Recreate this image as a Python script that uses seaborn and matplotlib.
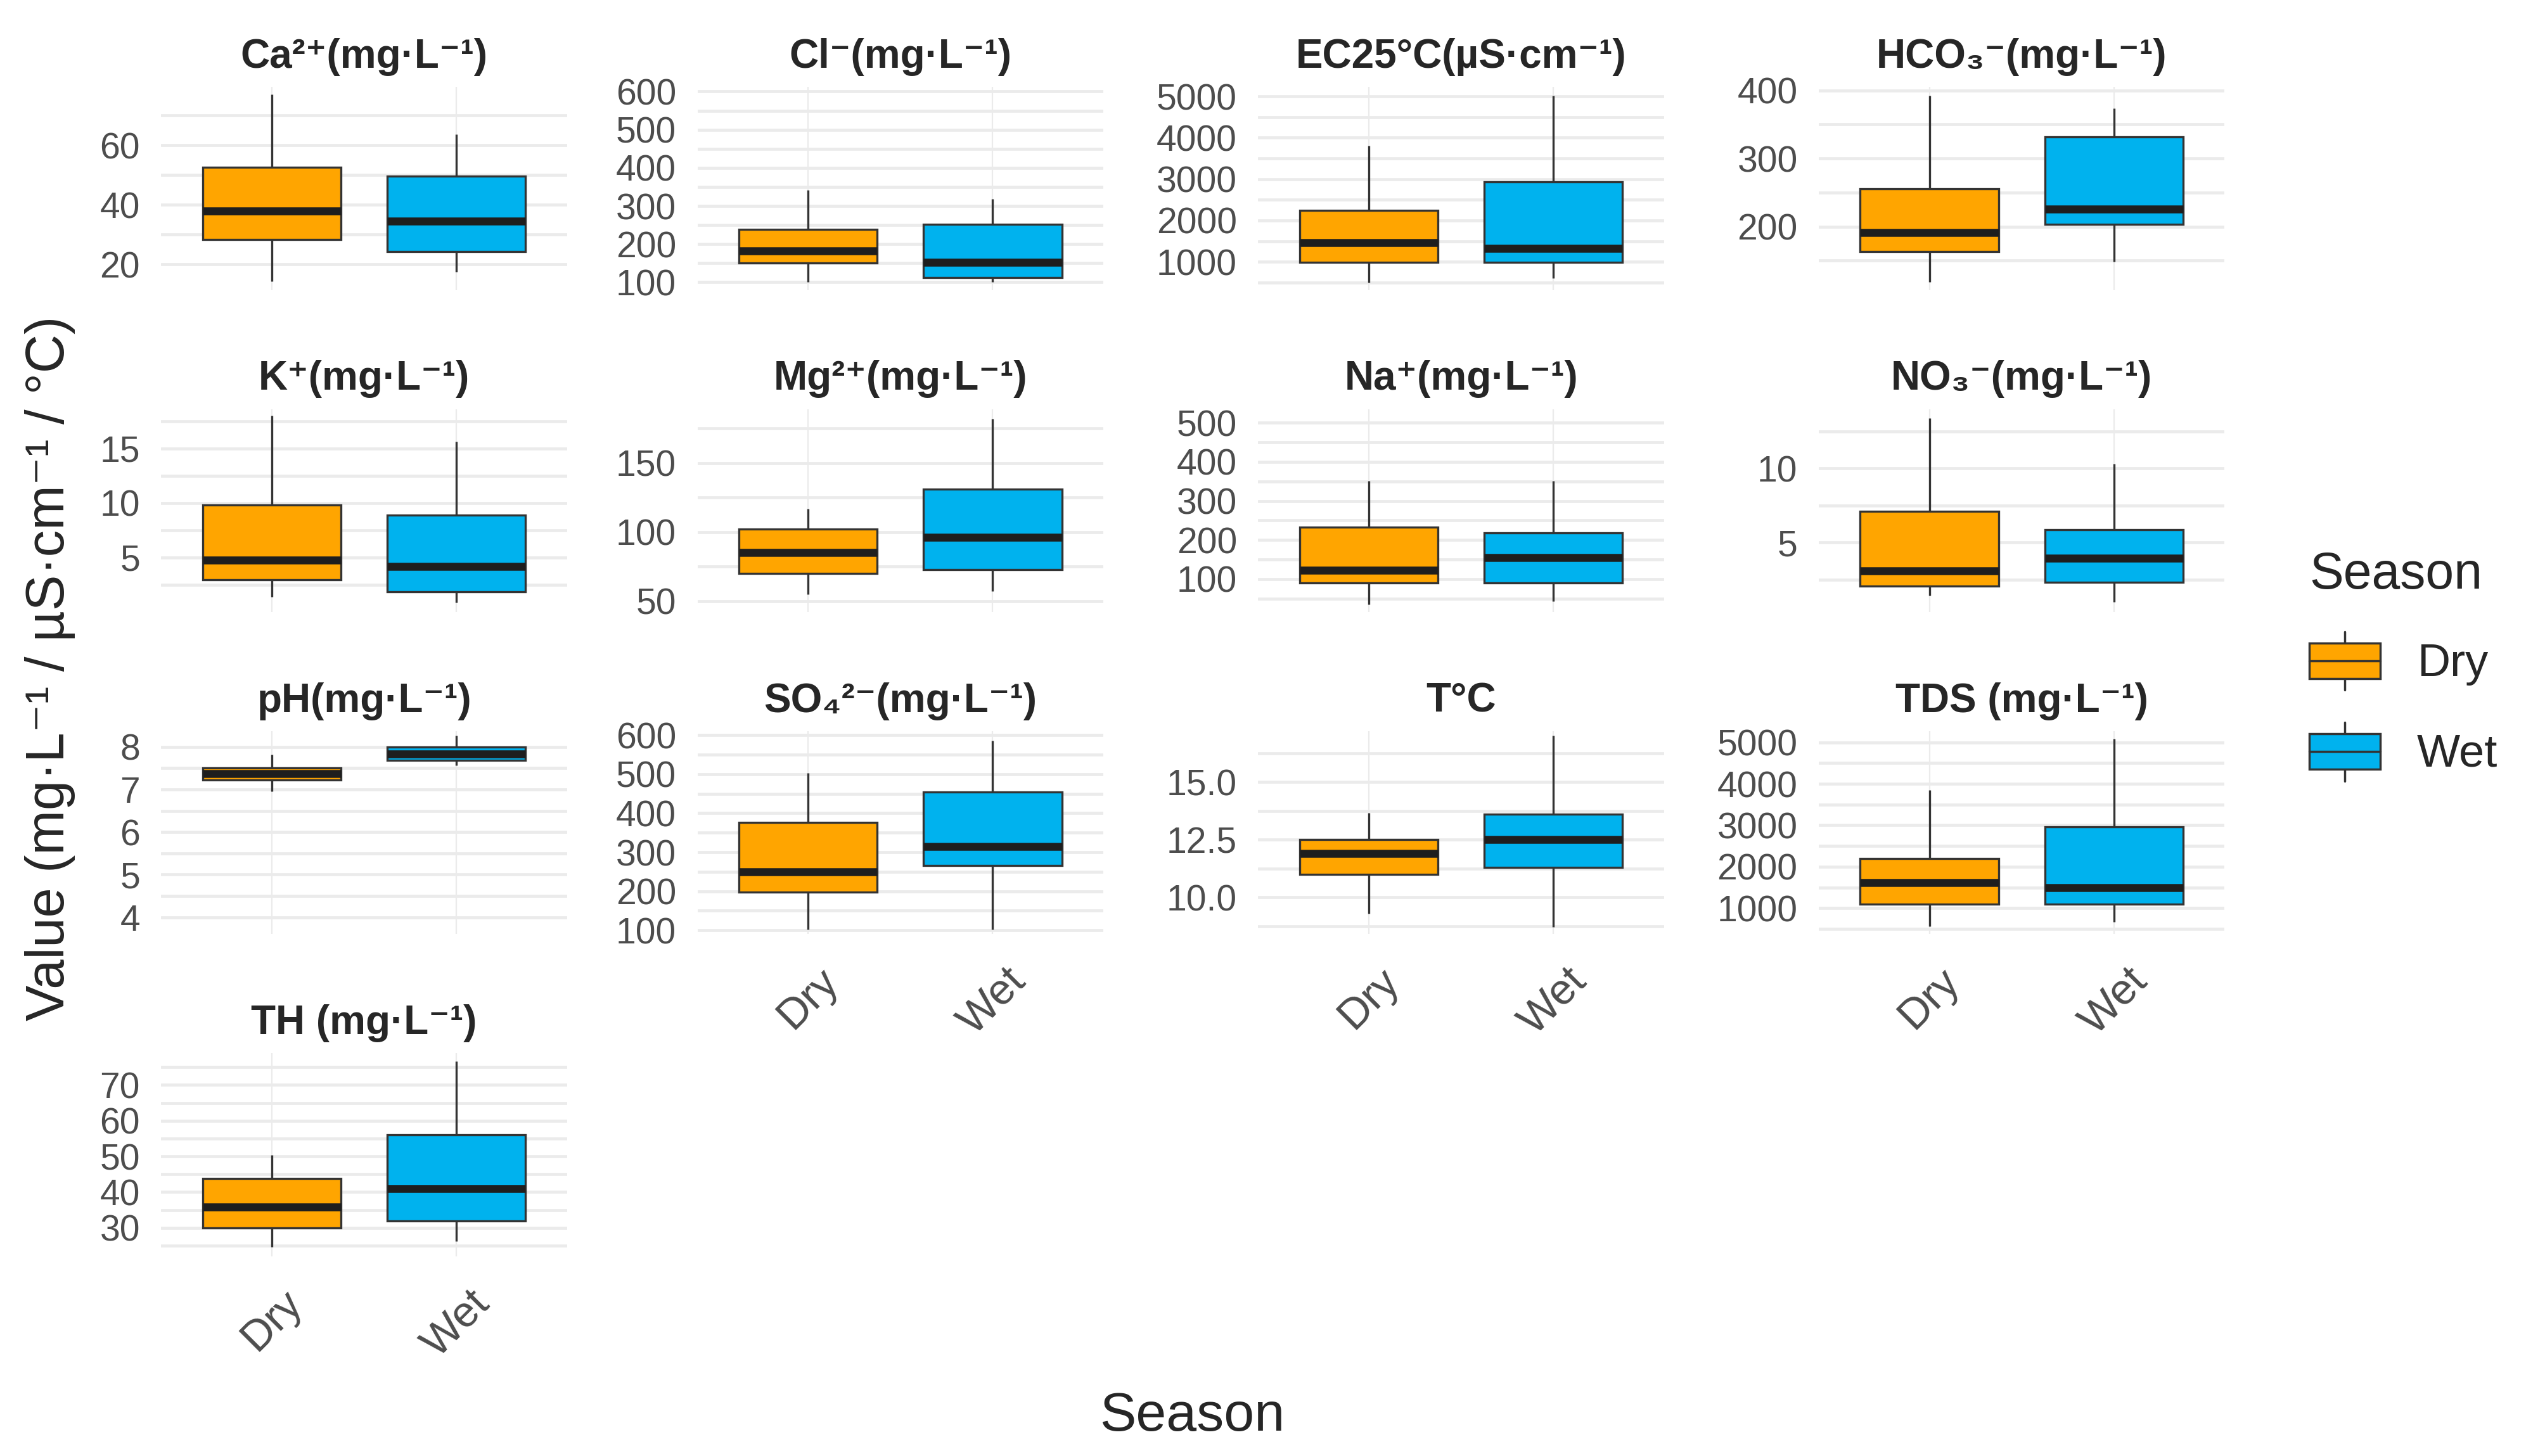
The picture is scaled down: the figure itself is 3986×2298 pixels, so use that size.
#%%
import numpy as np                                   # numeric helpers.
import pandas as pd                                  # long-form table for seaborn.
import seaborn as sns                                # plotting.
import matplotlib.pyplot as plt                      # figure handling.
from matplotlib.legend_handler import HandlerBase    # custom legend key.
from matplotlib.patches import Patch, Rectangle
from matplotlib.lines import Line2D

sns.set_theme(style="white")
plt.rcParams['font.family'] = ['Liberation Sans', 'DejaVu Sans']

#%%
# Seasons and colours of the fill.
seasons = ["Dry", "Wet"]
season_colors = ["#FFA500", "#00B2EE"]

# One panel per parameter, in facet order.
parameters = ["Ca", "Cl", "EC25", "HCO3", "K", "Mg", "Na", "NO3",
              "pH", "SO4", "T", "TDS", "TH"]
panel_titles = [
    "Ca²⁺(mg·L⁻¹)", "Cl⁻(mg·L⁻¹)", "EC25°C(µS·cm⁻¹)", "HCO₃⁻(mg·L⁻¹)",
    "K⁺(mg·L⁻¹)", "Mg²⁺(mg·L⁻¹)", "Na⁺(mg·L⁻¹)", "NO₃⁻(mg·L⁻¹)",
    "pH(mg·L⁻¹)", "SO₄²⁻(mg·L⁻¹)", "T°C", "TDS (mg·L⁻¹)", "TH (mg·L⁻¹)",
]

# Five-number summaries: min, Q1, median, Q3, max.
dry_values = [
    [14.3, 28.4, 38.0, 52.6, 77.0],
    [100, 150, 183, 238, 342],
    [500, 985, 1470, 2240, 3800],
    [119, 163, 191, 255, 392],
    [1.4, 2.95, 4.75, 9.8, 18.0],
    [55, 70, 85, 102, 117],
    [35, 90, 123, 233, 351],
    [1.4, 2.05, 3.1, 7.1, 13.4],
    [6.96, 7.23, 7.37, 7.5, 7.82],
    [102, 197, 250, 376, 503],
    [9.3, 11.0, 11.9, 12.5, 13.66],
    [560, 1100, 1610, 2200, 3850],
    [24.6, 30.0, 35.8, 43.8, 50.4],
]
wet_values = [
    [17.5, 24.3, 34.6, 49.6, 63.6],
    [100, 113, 152, 252, 318],
    [600, 985, 1320, 2930, 5025],
    [148, 203, 226, 332, 374],
    [0.9, 1.85, 4.2, 8.9, 15.65],
    [57, 73, 96, 131, 182],
    [43, 90, 154, 218, 351],
    [0.97, 2.3, 3.95, 5.85, 10.3],
    [7.57, 7.68, 7.84, 8.0, 8.26],
    [102, 266, 315, 455, 585],
    [8.7, 11.3, 12.5, 13.6, 17.0],
    [670, 1100, 1500, 2960, 5080],
    [26.3, 31.9, 40.9, 56.0, 76.6],
]

# Labelled y ticks of each panel.
major_ticks = [
    [20, 40, 60],
    [100, 200, 300, 400, 500, 600],
    [1000, 2000, 3000, 4000, 5000],
    [200, 300, 400],
    [5, 10, 15],
    [50, 100, 150],
    [100, 200, 300, 400, 500],
    [5, 10],
    [4, 5, 6, 7, 8],
    [100, 200, 300, 400, 500, 600],
    [10.0, 12.5, 15.0],
    [1000, 2000, 3000, 4000, 5000],
    [30, 40, 50, 60, 70],
]
y_limits = [
    (11.4, 79.6), (80, 612), (320, 5230), (107, 405), (0.0, 18.6),
    (42, 189), (15, 535), (0.3, 14.0), (3.6, 8.37), (90, 610),
    (8.4, 17.2), (370, 5270), (22, 78.9),
]

#%%
# Long-form table: one row per value.
rows = []
for p, d, w in zip(parameters, dry_values, wet_values):
    rows += [(p, "Dry", v) for v in d]
    rows += [(p, "Wet", v) for v in w]
df = pd.DataFrame(rows, columns=["Parameter", "Season", "Value"])

#%%
class BoxKey(HandlerBase):
    '''Small boxplot glyph for the legend.'''
    def create_artists(self, legend, orig_handle, xdescent, ydescent,
                       width, height, fontsize, trans):
        x0, y0 = -xdescent, -ydescent
        b0, b1 = y0 + 0.2 * height, y0 + 0.8 * height
        xm = x0 + width / 2
        kw = dict(color="#333333", lw=2.5, transform=trans)
        return [
            Line2D([xm, xm], [y0, b0], **kw),
            Line2D([xm, xm], [b1, y0 + height], **kw),
            Rectangle((x0, b0), width, b1 - b0, facecolor=orig_handle.get_facecolor(),
                      edgecolor="#333333", lw=2.5, transform=trans),
            Line2D([x0, x0 + width], [y0 + height / 2] * 2, **kw),
        ]

#%%
fig = plt.figure(figsize=(39.86, 22.98), dpi=100)
col_left = [0.0638, 0.2761, 0.4981, 0.7200]
row_bottom = [0.8009, 0.5796, 0.3584, 0.1372]
pw, ph = 0.1607, 0.1394
bottom_panels = {9, 10, 11, 12}

for i, p in enumerate(parameters):
    r, c = divmod(i, 4)
    ax = fig.add_axes([col_left[c], row_bottom[r], pw, ph])
    sns.boxplot(
        data=df[df.Parameter == p], x="Season", y="Value",
        hue="Season", order=seasons, hue_order=seasons,
        palette=season_colors, saturation=1, width=0.75, whis=(0, 100),
        showcaps=False, linecolor="#333333", linewidth=2.4,
        medianprops=dict(color="#1E1E1E", linewidth=9),
        legend=False, ax=ax,
    )
    ax.set_xlim(-0.6, 1.6)
    lo, hi = y_limits[i]
    ax.set_ylim(lo, hi)
    ticks = major_ticks[i]
    step = ticks[1] - ticks[0]
    minor = [t for t in np.arange(ticks[0] - step / 2, hi, step)
             if lo < t < hi and t not in ticks]
    ax.set_yticks(ticks)
    ax.set_yticks(minor, minor=True)
    fmt = "{:.1f}" if p == "T" else "{:g}"
    ax.set_yticklabels([fmt.format(t) for t in ticks])
    ax.yaxis.grid(True, which="both", color="#EBEBEB", lw=3.4)
    ax.xaxis.grid(True, which="major", color="#EBEBEB", lw=1.6)
    ax.set_axisbelow(True)
    sns.despine(ax=ax, left=True, bottom=True)
    ax.set_xlabel("")
    ax.set_ylabel("")
    ax.tick_params(axis="y", which="both", length=0, labelsize=41,
                   labelcolor="#4D4D4D", pad=24)
    ax.tick_params(axis="x", length=0, labelsize=49, labelcolor="#4D4D4D", pad=30)
    if i in bottom_panels:
        for lab in ax.get_xticklabels():
            lab.set_rotation(45)
            lab.set_ha("center")
            lab.set_va("top")
    else:
        ax.tick_params(axis="x", labelbottom=False)
    ax.set_title(panel_titles[i], fontsize=46, fontweight="bold", pad=22)

fig.text(0.0198, 0.541, "Value (mg·L⁻¹ / µS·cm⁻¹ / °C)", rotation=90,
         ha="center", va="center", fontsize=61)
fig.text(0.472, 0.027, "Season", ha="center", va="center", fontsize=62)

handles = [Patch(facecolor=col, label=s) for s, col in zip(seasons, season_colors)]
fig.legend(
    handles=handles, title="Season", loc="upper left",
    bbox_to_anchor=(0.907, 0.634), borderaxespad=0, frameon=False,
    fontsize=52, title_fontsize=58, handler_map={Patch: BoxKey()},
    handlelength=1.55, handleheight=1.6, labelspacing=0.7,
    handletextpad=0.8, alignment="left",
)

fig.savefig("out.png", dpi=100)
